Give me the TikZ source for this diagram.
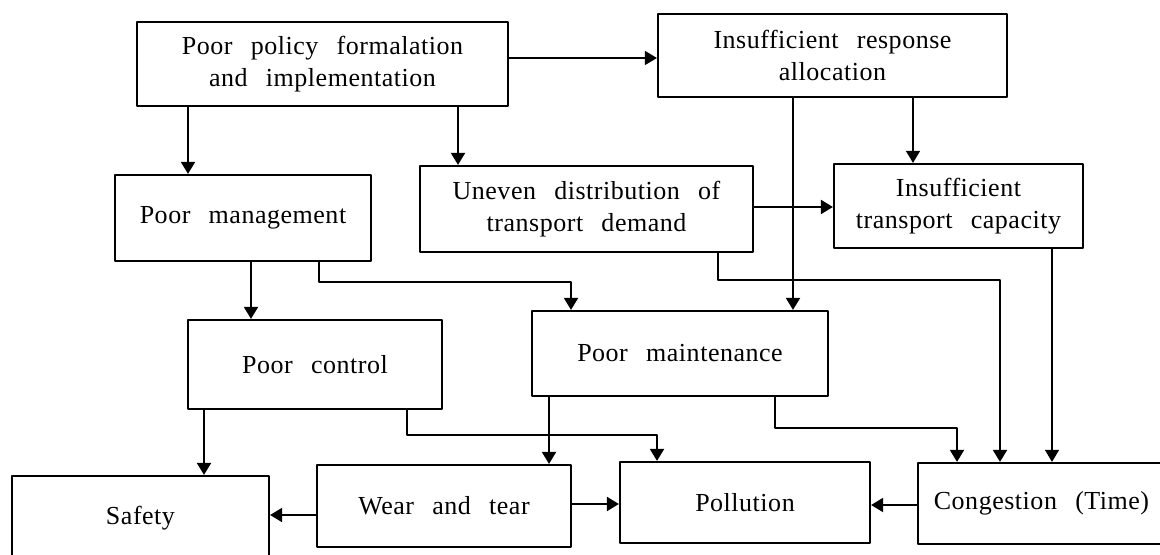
\documentclass[tikz,border=0pt]{standalone}
\usepackage{fontspec}
\setmainfont{Liberation Serif}[WordSpace=2.6, LetterSpace=2]
\usetikzlibrary{arrows.meta}

\begin{document}
\begin{tikzpicture}[x=0.5pt, y=-0.5pt, font=\fontsize{13}{16}\selectfont,
            line join=round, >={Triangle[length=6pt,width=7pt]},
            box/.style={draw, line width=1.1pt, align=center, inner sep=0pt},
            link/.style={->, line width=1pt},
            thinlink/.style={->, line width=0.6pt}]
            \useasboundingbox (0,0) rectangle (1160,555);
            % boxes
            \node[box, minimum width=185.5pt, minimum height=42pt] (policy) at (322.5,64)
            {Poor policy formalation\\and implementation};
            \node[box, minimum width=174.5pt, minimum height=41.5pt] (response) at (832.5,55.5)
            {Insufficient response\\allocation};
            \node[box, minimum width=128pt, minimum height=43pt] (mgmt) at (243,218)
            {Poor management};
            \node[box, minimum width=166.5pt, minimum height=43pt] (uneven) at (586.5,209)
            {Uneven distribution of\\transport demand};
            \node[box, minimum width=124.5pt, minimum height=42pt] (capacity) at (958.5,206)
            {Insufficient\\transport capacity};
            \node[box, minimum width=127pt, minimum height=44.5pt] (control) at (315,364.5)
            {Poor control};
            \node[box, minimum width=148pt, minimum height=42.5pt] (maint) at (680,353.5)
            {Poor maintenance};
            \node[box, minimum width=128.5pt, minimum height=42pt] (safety) at (140.5,518)
            {Safety};
            \node[box, minimum width=127pt, minimum height=41pt] (wear) at (444,506)
            {Wear and tear};
            \node[box, minimum width=125pt, minimum height=40.5pt] (pollution) at (745,502.5)
            {Pollution};
            \node[box, minimum width=123.5pt, minimum height=40.5pt] (congestion) at (1041.5,503.5)
            {Congestion (Time)};
            % where the connectors run
            \path
            (188,0) coordinate (xa)
            (458,0) coordinate (xb)
            (0,58) coordinate (ya)
            (793,0) coordinate (xc)
            (913,0) coordinate (xd)
            (0,207) coordinate (yb)
            (251,0) coordinate (xe)
            (319,282) coordinate (ma) (571,282) coordinate (mb)
            (718,280) coordinate (ua) (1000,280) coordinate (ub)
            (1052,0) coordinate (xf)
            (204,0) coordinate (xg)
            (407,435) coordinate (ca) (657,435) coordinate (cb)
            (549,0) coordinate (xh)
            (775,428) coordinate (na) (957,428) coordinate (nb)
            (0,515) coordinate (yc)
            (0,504) coordinate (yd)
            (0,505) coordinate (ye)
            ;
            \draw[thinlink] (policy.east |- ya) -- (response.west |- ya);
            \draw[link] (xa |- policy.south) -- (xa |- mgmt.north);
            \draw[link] (xb |- policy.south) -- (xb |- uneven.north);
            \draw[link] (xc |- response.south) -- (xc |- maint.north);
            \draw[thinlink] (xd |- response.south) -- (xd |- capacity.north);
            \draw[link] (uneven.east |- yb) -- (capacity.west |- yb);
            \draw[link] (xe |- mgmt.south) -- (xe |- control.north);
            \draw[link] (ma |- mgmt.south) -- (ma) -- (mb) -- (mb |- maint.north);
            \draw[link] (ua |- uneven.south) -- (ua) -- (ub) -- (ub |- congestion.north);
            \draw[thinlink] (xf |- capacity.south) -- (xf |- congestion.north);
            \draw[link] (xg |- control.south) -- (xg |- safety.north);
            \draw[link] (ca |- control.south) -- (ca) -- (cb) -- (cb |- pollution.north);
            \draw[link] (xh |- maint.south) -- (xh |- wear.north);
            \draw[link] (na |- maint.south) -- (na) -- (nb) -- (nb |- congestion.north);
            \draw[link] (wear.west |- yc) -- (safety.east |- yc);
            \draw[link] (wear.east |- yd) -- (pollution.west |- yd);
            \draw[link] (congestion.west |- ye) -- (pollution.east |- ye);
        \end{tikzpicture}
\end{document}
